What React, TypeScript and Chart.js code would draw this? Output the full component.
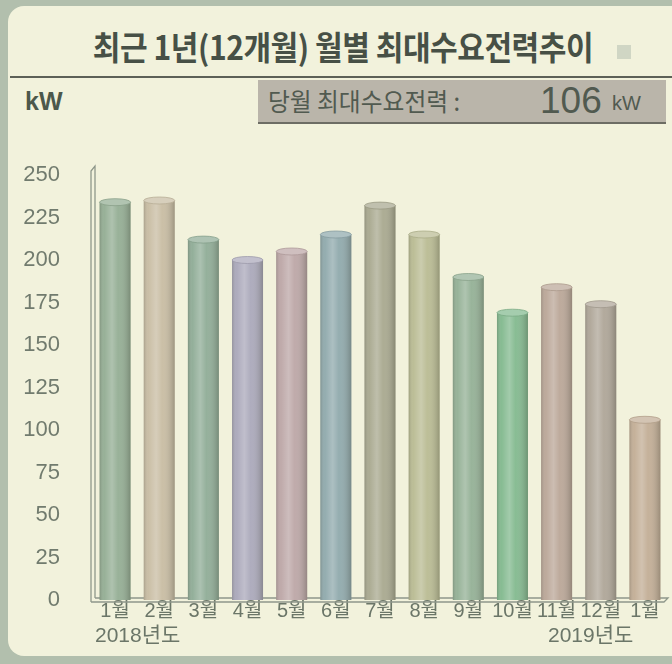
import React, { useEffect, useRef } from "react";
import { Chart, registerables } from "chart.js";

Chart.register(...registerables);

// ---- data ----
const months = ["1월", "2월", "3월", "4월", "5월", "6월", "7월", "8월", "9월", "10월", "11월", "12월", "1월"];
const demandKW = [234, 235, 212, 200, 205, 215, 232, 215, 190, 169, 184, 174, 106];
const yMin = 0;
const yMax = 250;
const yStep = 25;
const currentMonthKW = 106;
const titleText = "최근 1년(12개월) 월별 최대수요전력추이";
const unitText = "kW";
const currentLabel = "당월 최대수요전력 :";
const startYearLabel = "2018년도";
const endYearLabel = "2019년도";

const barColors = [
  "#93ad93", "#c8bca2", "#8fac96", "#aaa8ba", "#bca6a6", "#8fa9ac", "#a8a88e",
  "#b9bb92", "#93b095", "#82b98e", "#baa697", "#aea597", "#c2ad95",
];

const KR = '"Noto Sans CJK KR", "Liberation Sans", sans-serif';
const NUM = '"Liberation Sans", "Noto Sans CJK KR", sans-serif';

function mix(hex: string, target: number, amt: number): string {
  const n = parseInt(hex.slice(1), 16);
  const r = (n >> 16) & 255, g = (n >> 8) & 255, b = n & 255;
  const f = (c: number) => Math.round(c + (target - c) * amt);
  return `rgb(${f(r)},${f(g)},${f(b)})`;
}

const framePlugin = {
  id: "frame3d",
  beforeDatasetsDraw(chart: any) {
    const { ctx, chartArea } = chart;
    const { left: L, right: R, top: T, bottom: B } = chartArea;
    ctx.save();
    ctx.strokeStyle = "#8e978a";
    ctx.lineWidth = 1.3;
    ctx.beginPath();
    // back wall
    ctx.moveTo(L - 2, B + 2);
    ctx.lineTo(L - 2, T - 4);
    ctx.lineTo(L + 2, T - 9);
    ctx.lineTo(L + 2, B - 2);
    // floor
    ctx.moveTo(L - 2, B + 2);
    ctx.lineTo(R - 3, B + 2);
    ctx.lineTo(R + 1, B - 2);
    ctx.lineTo(L + 2, B - 2);
    ctx.stroke();
    ctx.restore();
  },
};

const cylinderPlugin = {
  id: "cylinder",
  afterDatasetsDraw(chart: any) {
    const { ctx } = chart;
    const meta = chart.getDatasetMeta(0);
    meta.data.forEach((bar: any, i: number) => {
      const { x, y, base, width } = bar.getProps(["x", "y", "base", "width"], true);
      const l = x - width / 2;
      const r = x + width / 2;
      const ry = 3.5;
      const col = barColors[i % barColors.length];
      ctx.save();
      const g = ctx.createLinearGradient(l, 0, r, 0);
      g.addColorStop(0, "rgba(70,70,60,0.24)");
      g.addColorStop(0.15, "rgba(255,255,255,0.04)");
      g.addColorStop(0.4, "rgba(255,255,255,0.26)");
      g.addColorStop(0.6, "rgba(255,255,255,0.05)");
      g.addColorStop(1, "rgba(60,60,50,0.3)");
      ctx.fillStyle = g;
      ctx.fillRect(l, y, width, base - y);
      // top cap
      ctx.beginPath();
      ctx.ellipse(x, y, width / 2, ry, 0, 0, Math.PI * 2);
      ctx.fillStyle = mix(col, 255, 0.28);
      ctx.fill();
      ctx.lineWidth = 0.8;
      ctx.strokeStyle = mix(col, 60, 0.12);
      ctx.stroke();
      ctx.restore();
    });
  },
};

function BarChart() {
  const ref = useRef<HTMLCanvasElement | null>(null);
  useEffect(() => {
    if (!ref.current) return;
    const chart = new Chart(ref.current, {
      type: "bar",
      data: {
        labels: months,
        datasets: [
          {
            data: demandKW,
            backgroundColor: barColors,
            borderWidth: 0,
            barPercentage: 0.78,
            categoryPercentage: 0.9,
          },
        ],
      },
      options: {
        animation: false,
        responsive: false,
        maintainAspectRatio: false,
        layout: { padding: { top: 35, right: 5, left: 0, bottom: 0 } },
        plugins: { legend: { display: false }, tooltip: { enabled: false } },
        scales: {
          x: {
            grid: { display: false, drawTicks: false },
            border: { display: false },
            ticks: {
              color: "#6b7668",
              font: { family: NUM, size: 20 },
              padding: -1,
              maxRotation: 0,
              autoSkip: false,
            },
            afterFit(s: any) {
              s.height = 64;
              s.paddingLeft = 0;
              s.paddingRight = 0;
            },
          },
          y: {
            min: yMin,
            max: yMax,
            grid: { display: false, drawTicks: false },
            border: { display: false },
            ticks: {
              stepSize: yStep,
              color: "#717b6e",
              font: { family: NUM, size: 22 },
              padding: 33,
            },
            afterFit(s: any) {
              s.width = 93;
              s.paddingTop = 0;
              s.paddingBottom = 0;
            },
          },
        },
      } as any,
      plugins: [framePlugin, cylinderPlugin],
    });
    return () => chart.destroy();
  }, []);
  return (
    <canvas
      ref={ref}
      width={672}
      height={524}
      style={{ position: "absolute", left: 0, top: 140, width: 672, height: 524 }}
    />
  );
}

export default function App() {
  return (
    <div
      style={{
        position: "fixed",
        left: 0,
        top: 0,
        width: 672,
        height: 664,
        overflow: "hidden",
        background: "#b2bfad",
      }}
    >
      <div
        style={{
          position: "absolute",
          left: 8,
          top: 6,
          width: 680,
          height: 650,
          borderRadius: 16,
          background: "#f2f2dc",
        }}
      />
      <div
        style={{
          position: "absolute",
          left: 0,
          top: 24,
          width: 686,
          textAlign: "center",
          fontFamily: KR,
          fontWeight: 700,
          fontSize: 33,
          lineHeight: "44px",
          color: "#475046",
          letterSpacing: -0.5,
          whiteSpace: "nowrap",
          transform: "scaleX(0.91)",
          transformOrigin: "343px 0",
        }}
      >
        {titleText}
      </div>
      <div
        style={{
          position: "absolute",
          left: 617,
          top: 45,
          width: 14,
          height: 14,
          background: "#d0d6c4",
        }}
      />
      <div
        style={{
          position: "absolute",
          left: 10,
          top: 76,
          width: 662,
          height: 2,
          background: "#5d6157",
        }}
      />
      <div
        style={{
          position: "absolute",
          left: 25,
          top: 86,
          fontFamily: NUM,
          fontWeight: 700,
          fontSize: 25,
          lineHeight: "30px",
          color: "#4c584b",
        }}
      >
        {unitText}
      </div>
      <div
        style={{
          position: "absolute",
          left: 258,
          top: 80,
          width: 408,
          height: 42,
          background: "#bab5aa",
          borderBottom: "2px solid #6d6d64",
          fontFamily: KR,
          color: "#515a50",
        }}
      >
        <span
          style={{
            position: "absolute",
            left: 10,
            top: 2,
            fontSize: 25,
            lineHeight: "36px",
            whiteSpace: "nowrap",
            transform: "scaleX(0.95)",
            transformOrigin: "0 0",
          }}
        >
          {currentLabel}
        </span>
        <span
          style={{
            position: "absolute",
            left: 282,
            top: 0,
            fontFamily: NUM,
            fontSize: 37,
            lineHeight: "42px",
            whiteSpace: "nowrap",
          }}
        >
          {currentMonthKW}
        </span>
        <span
          style={{
            position: "absolute",
            left: 354,
            top: 10,
            fontFamily: NUM,
            fontSize: 20,
            lineHeight: "26px",
            whiteSpace: "nowrap",
          }}
        >
          {unitText}
        </span>
      </div>
      <BarChart />
      <div
        style={{
          position: "absolute",
          left: 95,
          top: 621,
          fontFamily: NUM,
          fontSize: 21,
          lineHeight: "28px",
          color: "#6b7668",
          whiteSpace: "nowrap",
        }}
      >
        {startYearLabel}
      </div>
      <div
        style={{
          position: "absolute",
          left: 548,
          top: 621,
          fontFamily: NUM,
          fontSize: 21,
          lineHeight: "28px",
          color: "#6b7668",
          whiteSpace: "nowrap",
        }}
      >
        {endYearLabel}
      </div>
    </div>
  );
}
